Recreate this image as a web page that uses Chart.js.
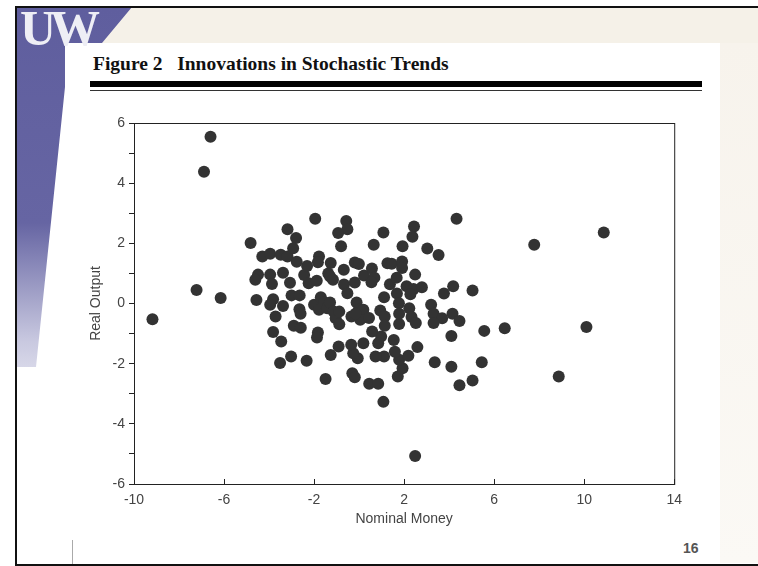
<!DOCTYPE html>
<html>
<head>
<meta charset="utf-8">
<script src="https://cdn.jsdelivr.net/npm/chart.js@4.4.0/dist/chart.umd.min.js"></script>
<style>
  body { margin: 0; background: #fff; }
  #slide { position: relative; width: 758px; height: 566px; overflow: hidden; background: #fff; }
  .cream { position: absolute; left: 16px; top: 7px; width: 742px; height: 36px; background: #f5f1e8; }
  .side { position: absolute; left: 720px; top: 43px; width: 38px; height: 520px; background: linear-gradient(#f7f3ec, #fbf9f5); }
  .band { position: absolute; left: 16px; top: 7px; width: 120px; height: 540px;
          background: linear-gradient(#5f5e9e 0%, #6665a3 40%, #c9c9e0 62%, #fff 80%);
          clip-path: polygon(0 0, 116px 0, 86px 36px, 49px 36px, 49px 80px, 20px 360px, 0 360px); }
  .logo { position: absolute; left: 20px; top: -1px; font: bold 50px "Liberation Serif", serif;
          color: #eeeef5; letter-spacing: -6px; }
  .title { position: absolute; left: 93px; top: 53px; font: bold 19.5px "Liberation Serif", serif;
           color: #111; white-space: pre; }
  .rule1 { position: absolute; left: 90px; top: 81px; width: 612px; height: 6px; background: #000; }
  .rule2 { position: absolute; left: 90px; top: 90px; width: 612px; height: 1px; background: #333; }
  .border-top { position: absolute; left: 16px; top: 6px; width: 742px; height: 2px; background: #111; }
  .border-left { position: absolute; left: 15px; top: 6px; width: 2px; height: 560px; background: #111; }
  .border-bottom { position: absolute; left: 16px; top: 564px; width: 742px; height: 2px; background: #111; }
  .vline { position: absolute; left: 72px; top: 540px; width: 1px; height: 24px; background: #aaa; }
  .page { position: absolute; left: 683px; top: 540px; font: bold 14px "Liberation Sans", sans-serif; color: #555; }
  #wrap { position: absolute; left: 80px; top: 110px; width: 610px; height: 420px; }
</style>
</head>
<body>
<div id="slide">
  <div class="cream"></div>
  <div class="side"></div>
  <div class="band"></div>
  <div class="logo">UW</div>
  <div class="border-top"></div>
  <div class="border-left"></div>
  <div class="border-bottom"></div>
  <div class="title">Figure 2   Innovations in Stochastic Trends</div>
  <div class="rule1"></div>
  <div class="rule2"></div>
  <div id="wrap"><canvas id="scatterChart" width="610" height="420"></canvas></div>
  <div class="vline"></div>
  <div class="page">16</div>
</div>
<script>
// innovations
const moneyX = [
  -9.18, -6.60, -6.89, -7.22, -6.15, -4.82, -4.30, -3.95, -3.48, -3.18,
  -3.18, -2.80, -2.93, -2.77, -1.95, -0.57, -0.52, -0.93, -0.80, 1.08,
  0.65, 1.93, 2.44, 2.37, 4.33, 3.03, 3.53, 7.78, 10.87, -4.49,
  -4.61, -3.95, -3.87, -3.38, -3.07, -4.56, -3.82, -3.95, -3.38, -3.71,
  -3.00, -2.64, -2.65, -2.60, -2.90, -2.59, -3.82, -3.46, -3.51, -3.02,
  -2.33, -2.44, -2.31, -2.24, -1.88, -1.78, -1.83, -1.26, -1.37, -1.29,
  -1.16, -0.68, -0.67, -0.52, -0.19, -0.01, -0.19, 0.22, 0.57, 0.68,
  0.55, 1.11, 1.26, 1.45, 1.91, 1.91, 1.37, 1.67, 2.49, 2.11,
  2.42, 2.79, 1.68, 2.28, 1.77, 2.23, 2.33, 2.52, 1.78, 3.20,
  3.77, 4.18, 5.04, 3.31, 3.69, 4.15, 4.46, 3.31, 4.10, 5.56,
  6.47, 10.10, 3.36, 4.10, 4.46, 5.04, 5.45, 8.87, 2.49, 1.08,
  0.45, 0.85, -0.30, -0.19, -1.49, 1.72, 1.93, 1.78, 2.19, 2.59,
  1.59, 1.54, 1.11, 0.73, 0.98, 0.85, 0.58, 0.19, -0.06, -0.26,
  -0.35, -0.91, -1.26, -1.83, -1.87, -2.00, -1.78, -1.70, -1.54, -1.42,
  -1.29, -1.13, -1.04, -0.88, -0.88, -0.11, -0.01, 0.19, -0.34, 0.05,
  0.44, 0.94, 1.14, 1.14, 1.78, -0.16
];
const outputY = [
  -0.52, 5.54, 4.38, 0.45, 0.18, 2.01, 1.56, 1.65, 1.62, 1.56,
  2.47, 2.18, 1.84, 1.39, 2.82, 2.74, 2.47, 2.34, 1.90, 2.36,
  1.95, 1.90, 2.56, 2.22, 2.82, 1.83, 1.61, 1.95, 2.36, 0.96,
  0.79, 0.96, 0.65, 1.02, 0.69, 0.12, 0.14, -0.04, -0.08, -0.43,
  0.27, 0.27, -0.19, -0.34, -0.74, -0.81, -0.95, -1.26, -1.98, -1.76,
  -1.90, 0.95, 1.25, 0.67, 0.76, 1.56, 1.37, 1.35, 1.00, 0.90,
  0.79, 1.12, 0.63, 0.34, 1.36, 1.31, 0.70, 0.93, 1.16, 0.86,
  0.71, 0.21, 1.34, 1.32, 1.40, 1.18, 0.64, 0.86, 0.96, 0.57,
  0.48, 0.54, 0.33, 0.31, 0.01, -0.16, -0.45, -0.65, -0.68, -0.04,
  0.33, 0.57, 0.43, -0.34, -0.49, -0.34, -0.58, -0.65, -1.08, -0.91,
  -0.82, -0.78, -1.95, -2.10, -2.72, -2.56, -1.95, -2.43, -5.07, -3.27,
  -2.67, -2.67, -2.32, -2.45, -2.51, -2.43, -2.15, -1.87, -1.74, -1.45,
  -1.60, -1.21, -1.76, -1.76, -1.10, -1.32, -0.93, -1.32, -1.82, -1.65,
  -1.37, -1.43, -1.71, -0.96, -1.13, -0.04, -0.21, 0.21, 0.04, -0.16,
  0.03, -0.27, -0.49, -0.69, -0.27, 0.03, -0.21, -0.21, -0.43, -0.54,
  -0.48, -0.23, -0.43, -0.74, -0.34, -0.34
];
const xTickLabels = ['-10', '-6', '-2', '2', '6', '10', '14'];
const yTickLabels = ['-6', '-4', '-2', '0', '2', '4', '6'];

const points = moneyX.map((x, i) => ({ x: x, y: outputY[i] }));

// box round the plot, x ticks pointing inward
const boxPlugin = {
  id: 'box',
  afterDraw(chart) {
    const { ctx, chartArea: a, scales } = chart;
    ctx.save();
    ctx.strokeStyle = '#222';
    ctx.lineWidth = 1;
    ctx.strokeRect(a.left + 0.5, a.top + 0.5, a.right - a.left, a.bottom - a.top);
    scales.x.ticks.forEach(t => {
      const px = Math.round(scales.x.getPixelForValue(t.value)) + 0.5;
      ctx.beginPath();
      ctx.moveTo(px, a.bottom);
      ctx.lineTo(px, a.bottom - 5);
      ctx.stroke();
    });
    ctx.restore();
  }
};

const tickFont = { family: 'Liberation Sans, Arial, sans-serif', size: 14 };

new Chart(document.getElementById('scatterChart'), {
  type: 'scatter',
  data: {
    datasets: [{
      data: points,
      backgroundColor: '#333',
      borderWidth: 0,
      pointRadius: 6,
      pointHoverRadius: 6
    }]
  },
  options: {
    responsive: false,
    animation: false,
    events: [],
    layout: { padding: { left: 0, top: 13, right: 15, bottom: 0 } },
    plugins: { legend: { display: false }, tooltip: { enabled: false } },
    scales: {
      x: {
        min: -10, max: 14,
        afterFit(s) { s.height = 46; },
        ticks: {
          stepSize: 4, color: '#444', font: tickFont, padding: 8, maxRotation: 0,
          callback: v => xTickLabels.includes(String(v)) ? String(v) : ''
        },
        grid: { drawOnChartArea: false, drawTicks: false },
        border: { display: true, color: '#222' },
        title: { display: true, text: 'Nominal Money', color: '#444', font: tickFont, padding: { top: 0, bottom: 2 } }
      },
      y: {
        min: -6, max: 6,
        afterFit(s) { s.width = 54; },
        ticks: {
          stepSize: 1, color: '#444', font: tickFont, padding: 4,
          callback: v => yTickLabels.includes(String(v)) ? String(v) : ''
        },
        grid: { drawOnChartArea: false, drawTicks: true, tickLength: 5, color: '#222' },
        border: { display: true, color: '#222' },
        title: { display: true, text: 'Real Output', color: '#444', font: tickFont, padding: { top: 8, bottom: 0 } }
      }
    }
  },
  plugins: [boxPlugin]
});
</script>
</body>
</html>
